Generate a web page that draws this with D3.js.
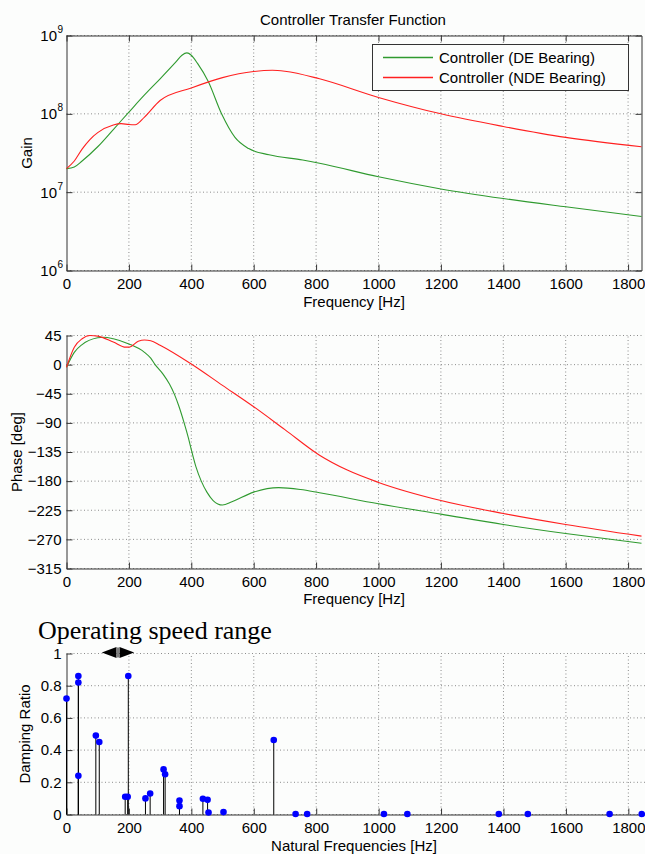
<!DOCTYPE html>
<html lang="en">
<head>
<meta charset="UTF-8">
<title>Controller Transfer Function</title>
<script src="https://d3js.org/d3.v7.min.js"></script>
<style>
  body { margin: 0; background: #fcfdfc; }
  svg { display: block; }
  text { font-family: "Liberation Sans", Arial, sans-serif; font-size: 15px; fill: #000; }
  .grid line { stroke: #8c8c8c; stroke-dasharray: 1,2.5; }
  .axis path, .axis line { stroke: #333; }
  .axis text { font-size: 15px; }
</style>
</head>
<body>
<script>
// tick values
const freqTicks = [0, 200, 400, 600, 800, 1000, 1200, 1400, 1600, 1800];
const gainTicks = [1e6, 1e7, 1e8, 1e9];
const phaseTicks = [45, 0, -45, -90, -135, -180, -225, -270, -315];
const dampTicks = [0, 0.2, 0.4, 0.6, 0.8, 1];

// gain, DE bearing
const gainFreqDE = [0, 25, 50, 100, 150, 200, 250, 300, 350, 370, 386, 400, 420, 454, 497, 540, 584, 649, 757, 811, 1000, 1200, 1400, 1600, 1843];
const gainDE = [2.0e7, 2.1e7, 2.5e7, 3.8e7, 6.3e7, 1.05e8, 1.74e8, 2.8e8, 4.57e8, 5.6e8, 6.0e8, 5.6e8, 4.4e8, 2.6e8, 1.0e8, 5.0e7, 3.6e7, 3.0e7, 2.57e7, 2.34e7, 1.57e7, 1.1e7, 8.3e6, 6.5e6, 4.9e6];
// gain, NDE bearing
const gainFreqNDE = [0, 25, 50, 75, 100, 150, 175, 200, 220, 250, 300, 400, 500, 600, 660, 700, 811, 1000, 1200, 1400, 1600, 1843];
const gainNDE = [2.0e7, 2.5e7, 3.55e7, 4.7e7, 5.75e7, 7.2e7, 7.5e7, 7.3e7, 7.25e7, 9.1e7, 1.48e8, 2.14e8, 2.9e8, 3.47e8, 3.6e8, 3.5e8, 2.8e8, 1.62e8, 1.0e8, 6.9e7, 5.0e7, 3.8e7];

// phase, DE bearing
const phaseFreqDE = [0, 25, 50, 100, 120, 150, 200, 250, 270, 284, 310, 330, 346, 360, 377, 390, 402, 415, 432, 450, 470, 500, 530, 600, 680, 750, 811, 1000, 1200, 1400, 1600, 1843];
const phaseDE = [-4, 19, 31, 41.4, 42.4, 40, 32, 19, 10, 0, -15, -30, -46, -64, -90, -112, -135, -158, -180, -197, -210, -217, -212, -197, -190, -193, -198, -215, -231, -247, -261, -276];
// phase, NDE bearing
const phaseFreqNDE = [0, 25, 50, 75, 100, 150, 190, 200, 230, 250, 270, 300, 400, 500, 600, 700, 811, 900, 1000, 1200, 1400, 1600, 1843];
const phaseNDE = [-4, 27, 40, 45, 44, 35, 27, 27, 36, 38, 37, 30, 1, -32, -65, -100.5, -140, -163, -182, -210, -230, -247, -265];

// natural frequencies and damping ratios
const natFreq = [0, 38, 38, 38, 94, 105, 188, 196, 198, 253, 268, 311, 316, 362, 362, 437, 452, 455, 503, 664, 734, 771, 1017, 1092, 1385, 1478, 1740, 1843];
const damping = [0.72, 0.86, 0.82, 0.24, 0.49, 0.45, 0.11, 0.11, 0.86, 0.10, 0.13, 0.28, 0.25, 0.087, 0.052, 0.098, 0.091, 0.012, 0.015, 0.463, 0.003, 0.003, 0.003, 0.003, 0.003, 0.003, 0.003, 0.003];

const opRange = [113, 217];

const width = 645, height = 854;
const svg = d3.select("body").append("svg")
  .attr("width", width)
  .attr("height", height);

const x = d3.scaleLinear().domain([0, 1843]).range([66.5, 641.5]);
const xb = d3.scaleLinear().domain([0, 1855]).range([66.5, 645.5]);
const yGain = d3.scaleLog().domain([1e6, 1e9]).range([270.5, 35.5]);
const yPhase = d3.scaleLinear().domain([-315, 45]).range([568.5, 335.5]);
const yDamp = d3.scaleLinear().domain([0, 1]).range([814.5, 653.5]);

const green = "#2f9a2f", red = "#ff2020";

function grid(xs, ys, xt, yt) {
  const g = svg.append("g").attr("class", "grid");
  g.selectAll(".v").data(xt.filter(d => d > 0)).enter().append("line")
    .attr("x1", d => xs(d)).attr("x2", d => xs(d))
    .attr("y1", ys.range()[0]).attr("y2", ys.range()[1]);
  g.selectAll(".h").data(yt).enter().append("line")
    .attr("x1", xs.range()[0]).attr("x2", xs.range()[1])
    .attr("y1", d => ys(d)).attr("y2", d => ys(d));
}

function axes(xs, ys, yt, yfmt, showYLabels) {
  svg.append("g").attr("class", "axis")
    .attr("transform", `translate(0,${ys.range()[0]})`)
    .call(d3.axisBottom(xs).tickValues(freqTicks).tickSize(-6).tickSizeOuter(0).tickPadding(8).tickFormat(d3.format("d")));
  svg.append("g").attr("class", "axis")
    .attr("transform", `translate(${xs.range()[0]},0)`)
    .call(d3.axisLeft(ys).tickValues(yt).tickSize(-6).tickSizeOuter(0).tickPadding(5)
      .tickFormat(showYLabels ? yfmt : ""));
}

function curve(xs, ys, fx, fy, color) {
  const line = d3.line().x(d => xs(d[0])).y(d => ys(d[1])).curve(d3.curveMonotoneX);
  svg.append("path").datum(d3.zip(fx, fy))
    .attr("d", line).attr("fill", "none")
    .attr("stroke", color).attr("stroke-width", 1.1);
}

// ---------- top: gain ----------
svg.append("text").attr("x", 353).attr("y", 24.5).attr("text-anchor", "middle")
  .text("Controller Transfer Function");

grid(x, yGain, freqTicks, gainTicks);
axes(x, yGain, gainTicks, null, false);
// box with ticks on top and right
svg.append("g").attr("class", "axis")
  .attr("transform", `translate(0,${yGain.range()[1]})`)
  .call(d3.axisTop(x).tickValues(freqTicks).tickSize(-6).tickSizeOuter(0).tickFormat(""));
svg.append("g").attr("class", "axis")
  .attr("transform", `translate(${x.range()[1]},0)`)
  .call(d3.axisRight(yGain).tickValues(gainTicks).tickSize(-6).tickSizeOuter(0).tickFormat(""));

const gl = svg.append("g");
gainTicks.forEach(t => {
  const e = Math.round(Math.log10(t));
  gl.append("text").attr("x", 57).attr("y", yGain(t) + 5.5)
    .attr("text-anchor", "end").text("10");
  gl.append("text").attr("x", 57.5).attr("y", yGain(t) - 2.5)
    .style("font-size", "10px").text(e);
});

curve(x, yGain, gainFreqDE, gainDE, green);
curve(x, yGain, gainFreqNDE, gainNDE, red);

svg.append("text").attr("transform", "translate(32,153) rotate(-90)")
  .attr("text-anchor", "middle").text("Gain");
svg.append("text").attr("x", 354).attr("y", 307).attr("text-anchor", "middle")
  .text("Frequency [Hz]");

// legend
const legendItems = ["Controller (DE Bearing)", "Controller (NDE Bearing)"];
const legendColors = [green, red];
const leg = svg.append("g");
leg.append("rect").attr("x", 372.5).attr("y", 44.5).attr("width", 256).attr("height", 46)
  .attr("fill", "#fcfdfc").attr("stroke", "#333");
legendItems.forEach((lab, i) => {
  const ly = 57.5 + i * 20;
  leg.append("line").attr("x1", 383).attr("x2", 433).attr("y1", ly).attr("y2", ly)
    .style("stroke", legendColors[i]).attr("stroke-width", 1.4);
  leg.append("text").attr("x", 439).attr("y", ly + 5.5).text(lab);
});

// ---------- middle: phase ----------
grid(x, yPhase, freqTicks, phaseTicks);
axes(x, yPhase, phaseTicks, d3.format("d"), true);
curve(x, yPhase, phaseFreqDE, phaseDE, green);
curve(x, yPhase, phaseFreqNDE, phaseNDE, red);

svg.append("text").attr("transform", "translate(22,452) rotate(-90)")
  .attr("text-anchor", "middle").text("Phase [deg]");
svg.append("text").attr("x", 354).attr("y", 604).attr("text-anchor", "middle")
  .text("Frequency [Hz]");

// ---------- bottom: damping ----------
grid(xb, yDamp, freqTicks, dampTicks);
axes(xb, yDamp, dampTicks, d => d3.format("~g")(d), true);

const stems = d3.zip(natFreq, damping);
svg.append("g").selectAll("line").data(stems).enter().append("line")
  .attr("x1", d => xb(d[0])).attr("x2", d => xb(d[0]))
  .attr("y1", yDamp(0)).attr("y2", d => yDamp(d[1]))
  .attr("stroke", "#000").attr("stroke-width", 1);
svg.append("g").selectAll("circle").data(stems).enter().append("circle")
  .attr("cx", d => xb(d[0])).attr("cy", d => yDamp(d[1]))
  .attr("r", 3.3).attr("fill", "#0000ff");

svg.append("text").attr("transform", "translate(30,734) rotate(-90)")
  .attr("text-anchor", "middle").text("Damping Ratio");
svg.append("text").attr("x", 354).attr("y", 851).attr("text-anchor", "middle")
  .text("Natural Frequencies [Hz]");

// operating speed range annotation
const xa = xb(opRange[0]), xe = xb(opRange[1]), xm = (xa + xe) / 2, yc = 652.5;
svg.append("path").attr("d", `M${xa},${yc}L${xm - 1.5},${yc - 5.5}L${xm - 1.5},${yc + 5.5}Z`).attr("fill", "#000");
svg.append("path").attr("d", `M${xe},${yc}L${xm + 1.5},${yc - 5.5}L${xm + 1.5},${yc + 5.5}Z`).attr("fill", "#000");
svg.append("line").attr("x1", xm).attr("x2", xm).attr("y1", yc - 5).attr("y2", yc + 5)
  .attr("stroke", "#000");
svg.append("text").attr("x", 38).attr("y", 639)
  .style("font-family", "'Liberation Serif', 'Times New Roman', serif").style("font-size", "26px")
  .text("Operating speed range");
</script>
</body>
</html>
